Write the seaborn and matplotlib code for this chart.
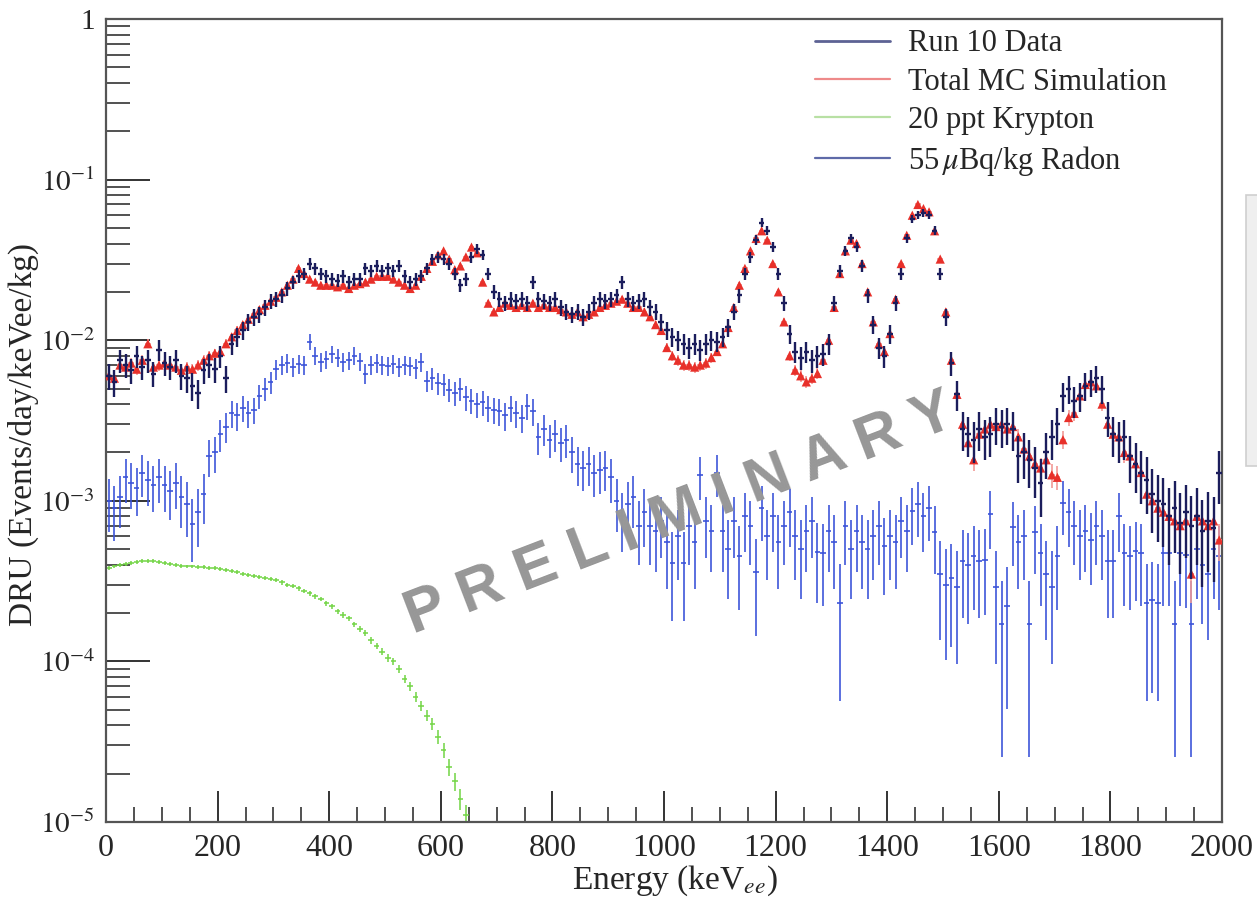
import numpy as np
import matplotlib
matplotlib.use("Agg")
import matplotlib.pyplot as plt
import seaborn as sbn
from matplotlib.lines import Line2D
from matplotlib.patches import Rectangle
from matplotlib.ticker import FixedLocator, LogLocator, MultipleLocator, NullFormatter

# Centros de bin de 10 keV (0-2000 keVee)
energia = np.arange(5, 2000, 10)

# Run 10 Data (DRU), una fila = 100 keV
datos_run10 = [
    6.0e-3, 5.5e-3, 7.5e-3, 7.0e-3, 6.5e-3, 8.0e-3, 6.8e-3, 7.5e-3, 6.2e-3, 8.7e-3,
    7.2e-3, 6.8e-3, 7.5e-3, 6.0e-3, 5.8e-3, 5.2e-3, 4.7e-3, 6.5e-3, 7.0e-3, 6.6e-3,
    8.0e-3, 5.8e-3, 9.5e-3, 1.05e-2, 1.15e-2, 1.3e-2, 1.4e-2, 1.45e-2, 1.6e-2, 1.75e-2,
    1.8e-2, 1.9e-2, 2.1e-2, 2.3e-2, 2.5e-2, 2.6e-2, 3.0e-2, 2.8e-2, 2.6e-2, 2.5e-2,
    2.4e-2, 2.35e-2, 2.5e-2, 2.3e-2, 2.4e-2, 2.4e-2, 2.8e-2, 2.7e-2, 2.9e-2, 2.7e-2,
    2.8e-2, 2.7e-2, 2.9e-2, 2.5e-2, 2.3e-2, 2.4e-2, 2.5e-2, 2.8e-2, 3.2e-2, 3.3e-2,
    3.2e-2, 3.0e-2, 2.6e-2, 2.2e-2, 2.4e-2, 3.3e-2, 3.7e-2, 3.4e-2, 2.6e-2, 2.0e-2,
    1.8e-2, 1.7e-2, 1.8e-2, 1.75e-2, 1.8e-2, 1.7e-2, 2.3e-2, 1.8e-2, 1.75e-2, 1.7e-2,
    1.8e-2, 1.6e-2, 1.5e-2, 1.45e-2, 1.5e-2, 1.4e-2, 1.5e-2, 1.7e-2, 1.8e-2, 1.75e-2,
    1.8e-2, 1.9e-2, 2.3e-2, 1.8e-2, 1.7e-2, 1.75e-2, 1.8e-2, 1.6e-2, 1.5e-2, 1.3e-2,
    1.15e-2, 1.05e-2, 1.0e-2, 9.5e-3, 9.0e-3, 9.5e-3, 8.7e-3, 9.5e-3, 1.0e-2, 9.8e-3,
    1.05e-2, 1.2e-2, 1.5e-2, 1.9e-2, 2.6e-2, 3.3e-2, 4.2e-2, 5.4e-2, 4.8e-2, 3.8e-2,
    2.6e-2, 1.7e-2, 1.1e-2, 8.5e-3, 7.8e-3, 8.5e-3, 7.5e-3, 8.0e-3, 8.2e-3, 9.5e-3,
    1.7e-2, 2.7e-2, 3.6e-2, 4.3e-2, 3.8e-2, 2.9e-2, 1.9e-2, 1.25e-2, 9.0e-3, 8.0e-3,
    1.1e-2, 1.7e-2, 2.6e-2, 4.3e-2, 5.7e-2, 6.0e-2, 6.2e-2, 6.0e-2, 4.8e-2, 2.6e-2,
    1.4e-2, 7.2e-3, 4.6e-3, 2.8e-3, 2.6e-3, 2.4e-3, 2.8e-3, 2.5e-3, 2.6e-3, 3.0e-3,
    2.9e-3, 3.0e-3, 2.8e-3, 1.9e-3, 2.0e-3, 1.8e-3, 1.6e-3, 1.3e-3, 2.0e-3, 2.5e-3,
    3.0e-3, 4.5e-3, 5.0e-3, 4.2e-3, 4.5e-3, 5.2e-3, 5.5e-3, 5.8e-3, 5.0e-3, 3.3e-3,
    2.6e-3, 2.4e-3, 2.5e-3, 1.9e-3, 1.7e-3, 1.5e-3, 1.35e-3, 1.1e-3, 1.0e-3, 9.5e-4,
    8.0e-4, 9.0e-4, 7.3e-4, 8.5e-4, 7.0e-4, 8.0e-4, 6.5e-4, 7.5e-4, 6.8e-4, 1.5e-3,
]

# Total MC Simulation (DRU)
simulacion_mc = [
    6.0e-3, 5.8e-3, 7.0e-3, 6.8e-3, 7.2e-3, 6.6e-3, 7.5e-3, 9.5e-3, 6.8e-3, 7.0e-3,
    7.2e-3, 7.0e-3, 6.8e-3, 6.5e-3, 6.8e-3, 6.6e-3, 7.0e-3, 7.5e-3, 8.0e-3, 8.3e-3,
    8.5e-3, 9.5e-3, 1.05e-2, 1.15e-2, 1.25e-2, 1.35e-2, 1.45e-2, 1.55e-2, 1.65e-2, 1.75e-2,
    1.85e-2, 2.0e-2, 2.2e-2, 2.4e-2, 2.8e-2, 2.6e-2, 2.4e-2, 2.3e-2, 2.2e-2, 2.2e-2,
    2.2e-2, 2.15e-2, 2.2e-2, 2.1e-2, 2.2e-2, 2.25e-2, 2.3e-2, 2.4e-2, 2.5e-2, 2.5e-2,
    2.5e-2, 2.4e-2, 2.3e-2, 2.2e-2, 2.1e-2, 2.2e-2, 2.5e-2, 2.8e-2, 3.1e-2, 3.4e-2,
    3.6e-2, 3.2e-2, 2.75e-2, 2.9e-2, 3.3e-2, 3.8e-2, 3.5e-2, 2.3e-2, 1.7e-2, 1.5e-2,
    1.6e-2, 1.7e-2, 1.65e-2, 1.6e-2, 1.65e-2, 1.6e-2, 1.7e-2, 1.6e-2, 1.65e-2, 1.6e-2,
    1.6e-2, 1.55e-2, 1.5e-2, 1.45e-2, 1.5e-2, 1.4e-2, 1.45e-2, 1.5e-2, 1.6e-2, 1.65e-2,
    1.7e-2, 1.75e-2, 1.8e-2, 1.7e-2, 1.6e-2, 1.6e-2, 1.5e-2, 1.4e-2, 1.25e-2, 1.15e-2,
    9.0e-3, 8.0e-3, 7.5e-3, 7.0e-3, 7.0e-3, 6.8e-3, 7.0e-3, 7.2e-3, 7.8e-3, 8.5e-3,
    9.5e-3, 1.2e-2, 1.6e-2, 2.2e-2, 2.8e-2, 3.6e-2, 4.3e-2, 4.8e-2, 4.2e-2, 3.0e-2,
    2.0e-2, 1.3e-2, 8.0e-3, 6.5e-3, 6.0e-3, 5.5e-3, 5.8e-3, 6.2e-3, 7.5e-3, 1.0e-2,
    1.6e-2, 2.6e-2, 3.6e-2, 4.2e-2, 4.0e-2, 3.0e-2, 2.0e-2, 1.3e-2, 9.5e-3, 8.5e-3,
    1.1e-2, 1.8e-2, 3.0e-2, 4.5e-2, 6.0e-2, 7.0e-2, 6.6e-2, 6.3e-2, 4.8e-2, 3.2e-2,
    1.5e-2, 7.5e-3, 4.6e-3, 3.0e-3, 2.3e-3, 1.8e-3, 2.6e-3, 2.8e-3, 3.0e-3, 2.9e-3,
    3.0e-3, 2.8e-3, 2.9e-3, 2.5e-3, 2.1e-3, 1.9e-3, 1.7e-3, 1.6e-3, 1.8e-3, 1.45e-3,
    1.4e-3, 2.4e-3, 3.3e-3, 3.5e-3, 4.5e-3, 5.3e-3, 5.5e-3, 5.2e-3, 4.0e-3, 3.0e-3,
    2.6e-3, 2.5e-3, 2.0e-3, 1.9e-3, 1.7e-3, 1.5e-3, 1.1e-3, 1.0e-3, 9.0e-4, 8.5e-4,
    8.0e-4, 7.5e-4, 7.0e-4, 7.5e-4, 3.5e-4, 8.0e-4, 7.5e-4, 7.0e-4, 7.5e-4, 5.7e-4,
]

# 55 uBq/kg Radon (DRU)
radon = [
    1.0e-3, 9.0e-4, 1.05e-3, 1.4e-3, 1.3e-3, 1.2e-3, 1.5e-3, 1.35e-3, 1.25e-3, 1.4e-3,
    1.25e-3, 1.15e-3, 1.3e-3, 1.05e-3, 9.5e-4, 7.2e-4, 8.5e-4, 1.1e-3, 1.9e-3, 2.0e-3,
    2.6e-3, 2.9e-3, 3.5e-3, 3.4e-3, 3.8e-3, 3.5e-3, 3.7e-3, 4.5e-3, 5.0e-3, 5.5e-3,
    6.6e-3, 7.0e-3, 7.2e-3, 6.8e-3, 7.1e-3, 7.0e-3, 9.8e-3, 8.0e-3, 7.3e-3, 7.6e-3,
    8.2e-3, 7.8e-3, 7.3e-3, 7.5e-3, 8.0e-3, 7.4e-3, 6.2e-3, 7.0e-3, 7.2e-3, 7.0e-3,
    6.9e-3, 7.1e-3, 6.8e-3, 7.0e-3, 6.9e-3, 6.7e-3, 7.3e-3, 5.6e-3, 5.8e-3, 5.4e-3,
    5.3e-3, 4.9e-3, 4.7e-3, 5.0e-3, 4.4e-3, 4.2e-3, 4.0e-3, 4.1e-3, 3.8e-3, 3.7e-3,
    3.6e-3, 3.4e-3, 3.8e-3, 3.5e-3, 3.3e-3, 3.9e-3, 3.6e-3, 2.5e-3, 2.8e-3, 2.4e-3,
    2.6e-3, 2.3e-3, 2.4e-3, 2.0e-3, 1.7e-3, 1.6e-3, 1.7e-3, 1.5e-3, 1.55e-3, 1.6e-3,
    1.4e-3, 1.0e-3, 8.0e-4, 9.5e-4, 1.05e-3, 7.0e-4, 8.5e-4, 7.0e-4, 6.5e-4, 7.5e-4,
    5.5e-4, 4.1e-4, 6.0e-4, 4.1e-4, 7.0e-4, 5.5e-4, 1.45e-3, 7.5e-4, 6.5e-4, 1.5e-3,
    6.5e-4, 5.0e-4, 7.5e-4, 4.5e-4, 8.0e-4, 7.0e-4, 3.6e-4, 9.0e-4, 6.0e-4, 8.0e-4,
    5.5e-4, 7.0e-4, 8.5e-4, 6.0e-4, 5.0e-4, 6.5e-4, 7.5e-4, 4.8e-4, 4.7e-4, 6.5e-4,
    5.5e-4, 2.3e-4, 7.0e-4, 5.0e-4, 6.5e-4, 5.5e-4, 5.0e-4, 6.0e-4, 7.0e-4, 5.2e-4,
    6.0e-4, 5.5e-4, 7.5e-4, 6.5e-4, 8.7e-4, 9.5e-4, 8.0e-4, 9.0e-4, 6.4e-4, 3.5e-4,
    3.0e-4, 3.3e-4, 2.9e-4, 4.2e-4, 4.0e-4, 4.5e-4, 4.2e-4, 4.3e-4, 8.3e-4, 2.9e-4,
    1.7e-4, 2.2e-4, 6.9e-4, 5.5e-4, 6.0e-4, 1.7e-4, 6.4e-4, 4.7e-4, 3.5e-4, 2.9e-4,
    4.5e-4, 9.7e-4, 8.5e-4, 7.0e-4, 6.0e-4, 6.5e-4, 5.7e-4, 7.0e-4, 6.0e-4, 4.2e-4,
    4.2e-4, 8.0e-4, 4.7e-4, 4.5e-4, 4.9e-4, 4.7e-4, 2.3e-4, 2.4e-4, 2.3e-4, 4.7e-4,
    4.7e-4, 1.7e-4, 4.7e-4, 4.6e-4, 1.7e-4, 5.0e-4, 4.0e-4, 3.5e-4, 5.0e-4, 4.5e-4,
]

# 20 ppt Krypton (DRU), solo hasta 650 keV
kripton = [
    3.8e-4, 3.9e-4, 4.0e-4, 4.05e-4, 4.1e-4, 4.15e-4, 4.2e-4, 4.2e-4, 4.2e-4, 4.15e-4,
    4.1e-4, 4.05e-4, 4.0e-4, 3.95e-4, 3.9e-4, 3.9e-4, 3.85e-4, 3.85e-4, 3.8e-4, 3.8e-4,
    3.75e-4, 3.7e-4, 3.65e-4, 3.6e-4, 3.5e-4, 3.45e-4, 3.4e-4, 3.35e-4, 3.3e-4, 3.25e-4,
    3.2e-4, 3.1e-4, 3.0e-4, 2.95e-4, 2.85e-4, 2.75e-4, 2.65e-4, 2.55e-4, 2.45e-4, 2.3e-4,
    2.2e-4, 2.05e-4, 1.95e-4, 1.85e-4, 1.7e-4, 1.6e-4, 1.5e-4, 1.35e-4, 1.25e-4, 1.15e-4,
    1.05e-4, 1.0e-4, 9.0e-5, 7.8e-5, 7.0e-5, 6.0e-5, 5.3e-5, 4.6e-5, 4.1e-5, 3.4e-5,
    2.8e-5, 2.2e-5, 1.8e-5, 1.4e-5, 1.1e-5,
]
energia_kr = energia[:len(kripton)]

etiquetas_leyenda = ["Run 10 Data", "Total MC Simulation", "20 ppt Krypton",
                     "55$\\,\\mu$Bq/kg Radon"]

# Escala de exposicion para los errores tipo Poisson de cada histograma
escala_error = {"datos": 2.0e-4, "mc": 4.0e-5, "radon": 1.3e-4, "kripton": 3.0e-7}

color_datos = "#1b1d5c"
color_mc = "#e8302a"
color_mc_error = "#f19a96"
color_radon = "#3a52d8"
color_kripton = "#72d444"

sbn.set_style("ticks")
plt.rcParams["font.family"] = ["Liberation Serif", "DejaVu Serif"]
plt.rcParams["mathtext.fontset"] = "stix"

fig = plt.figure(figsize = (12.57, 8.99), dpi = 100)
ax = fig.add_axes([106 / 1257, 1 - 822 / 899, (1222 - 106) / 1257, (822 - 19) / 899])


def barras(ax, x, y, escala, color, lw, zorder, alpha = 1.0):
    """Dibuja un histograma como cruces de error (estilo ROOT)."""
    y = np.asarray(y)
    err = np.sqrt(y * escala)
    abajo = np.minimum(err, y * 0.85)
    ax.errorbar(x, y, xerr = 5, yerr = [abajo, err], fmt = "none",
                ecolor = color, elinewidth = lw, capsize = 0,
                zorder = zorder, alpha = alpha)


barras(ax, energia, radon, escala_error["radon"], color_radon, 1.3, 2, 0.9)
barras(ax, energia_kr, kripton, escala_error["kripton"], color_kripton, 1.1, 2)
barras(ax, energia, simulacion_mc, escala_error["mc"], color_mc_error, 1.2, 3)
sbn.scatterplot(x = energia, y = simulacion_mc, marker = "^", s = 44,
                color = color_mc, edgecolor = "none", ax = ax, zorder = 4)
barras(ax, energia, datos_run10, escala_error["datos"], color_datos, 1.7, 5)

ax.set_yscale("log")
ax.set_xlim(0, 2000)
ax.set_ylim(1e-5, 1)

# Ticks estilo ROOT: hacia dentro, solo abajo e izquierda
ax.xaxis.set_major_locator(MultipleLocator(200))
ax.xaxis.set_minor_locator(MultipleLocator(50))
ax.yaxis.set_major_locator(FixedLocator([1e-5, 1e-4, 1e-3, 1e-2, 1e-1, 1]))
ax.yaxis.set_minor_locator(LogLocator(base = 10, subs = np.arange(2, 10)))
ax.yaxis.set_minor_formatter(NullFormatter())
ax.set_yticklabels(["$10^{-5}$", "$10^{-4}$", "$10^{-3}$", "$10^{-2}$",
                    "$10^{-1}$", "1"])
ax.tick_params(axis = "both", which = "both", direction = "in", top = False,
               right = False, color = "#333333")
ax.tick_params(axis = "x", which = "major", length = 22, width = 1.4, pad = 9,
               labelsize = 23)
ax.tick_params(axis = "x", which = "minor", length = 11, width = 1.2)
ax.tick_params(axis = "y", which = "major", length = 32, width = 1.4, pad = 8,
               labelsize = 21)
ax.tick_params(axis = "y", which = "minor", length = 17, width = 1.2)
for lado in ax.spines.values():
    lado.set_color("#555555")
    lado.set_linewidth(1.6)

ax.set_xlabel("Energy (keV$_{ee}$)", fontsize = 24)
ax.xaxis.set_label_coords(0.51, -0.052)
ax.set_ylabel("DRU (Events/day/keVee/kg)", fontsize = 24)
ax.yaxis.set_label_coords(-0.06, 0.483)

# Leyenda sin marco
manejadores = [
    Line2D([], [], color = "#5d6294", lw = 2.0),
    Line2D([], [], color = "#ee8a8a", lw = 1.6),
    Line2D([], [], color = "#b8e0a4", lw = 1.6),
    Line2D([], [], color = "#5e6aa8", lw = 1.6),
]
ax.legend(manejadores, etiquetas_leyenda, loc = "upper left",
          bbox_to_anchor = (0.635, 0.987), frameon = False, fontsize = 22,
          borderaxespad = 0, borderpad = 0, handlelength = 2.45,
          handletextpad = 0.6, labelspacing = 0.3)

# Marca de agua
fig.text(0.541, 0.427, "P R E L I M I N A R Y", rotation = 21,
         ha = "center", va = "center", fontsize = 44, fontweight = "bold",
         family = "Liberation Sans", color = "#979797", zorder = 6)

# Panel gris recortado en el borde derecho
fig.patches.append(Rectangle((1246 / 1257, 1 - 466 / 899), 0.02, 271 / 899,
                             transform = fig.transFigure, facecolor = "#efefef",
                             edgecolor = "#cfcfcf", lw = 1.2))

fig.savefig("out.png", dpi = 100)
plt.close(fig)
